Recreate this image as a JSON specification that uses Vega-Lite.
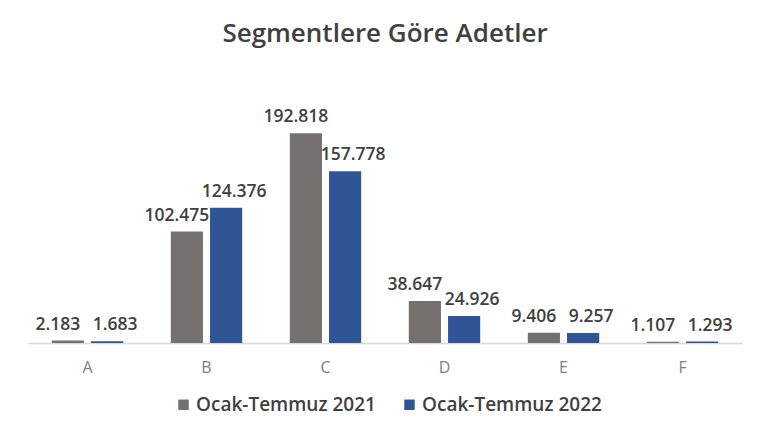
{
  "$schema": "https://vega.github.io/schema/vega-lite/v6.json",
  "autosize": {"type": "none"},
  "width": 714,
  "height": 272,
  "padding": {"left": 28, "top": 71, "right": 15, "bottom": 93},
  "background": "white",
  "title": {"text": "Segmentlere Göre Adetler", "font": "Open Sans", "fontSize": 26, "fontWeight": 600, "color": "#404040", "anchor": "middle", "offset": 24},
  "data": {"values": [
    {"segment": "A", "period": "Ocak-Temmuz 2021", "value": 2183},
    {"segment": "A", "period": "Ocak-Temmuz 2022", "value": 1683},
    {"segment": "B", "period": "Ocak-Temmuz 2021", "value": 102475},
    {"segment": "B", "period": "Ocak-Temmuz 2022", "value": 124376},
    {"segment": "C", "period": "Ocak-Temmuz 2021", "value": 192818},
    {"segment": "C", "period": "Ocak-Temmuz 2022", "value": 157778},
    {"segment": "D", "period": "Ocak-Temmuz 2021", "value": 38647},
    {"segment": "D", "period": "Ocak-Temmuz 2022", "value": 24926},
    {"segment": "E", "period": "Ocak-Temmuz 2021", "value": 9406},
    {"segment": "E", "period": "Ocak-Temmuz 2022", "value": 9257},
    {"segment": "F", "period": "Ocak-Temmuz 2021", "value": 1107},
    {"segment": "F", "period": "Ocak-Temmuz 2022", "value": 1293}
  ]},
  "encoding": {
    "x": {"field": "segment", "type": "nominal", "scale": {"paddingInner": 0.4, "paddingOuter": 0.2},
      "axis": {"title": null, "labelAngle": 0, "ticks": false, "domainColor": "#d9d9d9", "domainWidth": 1.5, "labelColor": "#7f7f7f", "labelFont": "Open Sans", "labelFontSize": 16, "labelPadding": 16}},
    "xOffset": {"field": "period", "type": "nominal", "scale": {"paddingInner": 0.18}},
    "y": {"field": "value", "type": "quantitative", "scale": {"domain": [0, 250000]}, "axis": null},
    "color": {"field": "period", "type": "nominal",
      "scale": {"domain": ["Ocak-Temmuz 2021", "Ocak-Temmuz 2022"], "range": ["#767171", "#2f5597"]},
      "legend": {"title": null, "orient": "none", "legendX": 146, "legendY": 324, "direction": "horizontal", "symbolType": "square", "symbolSize": 110, "symbolStrokeWidth": 0, "labelFont": "Open Sans", "labelFontSize": 19, "labelFontWeight": 600, "labelColor": "#404040", "labelLimit": 400, "columnPadding": 24, "labelOffset": 3}}
  },
  "layer": [
    {"mark": {"type": "bar"}},
    {"transform": [{"filter": "datum.period === 'Ocak-Temmuz 2021'"}],
      "mark": {"type": "text", "dy": -16, "dx": -10, "font": "Open Sans", "fontSize": 17.5, "fontWeight": 600, "color": "#404040"},
      "encoding": {"text": {"field": "value", "type": "quantitative", "format": ",d"}, "color": {"value": "#404040"}}},
    {"transform": [{"filter": "datum.period === 'Ocak-Temmuz 2022'"}],
      "mark": {"type": "text", "dy": -16, "dx": 8, "font": "Open Sans", "fontSize": 17.5, "fontWeight": 600, "color": "#404040"},
      "encoding": {"text": {"field": "value", "type": "quantitative", "format": ",d"}, "color": {"value": "#404040"}}}
  ],
  "config": {
    "view": {"stroke": null},
    "locale": {"number": {"decimal": ",", "thousands": ".", "grouping": [3], "currency": ["", ""]}}
  }
}
